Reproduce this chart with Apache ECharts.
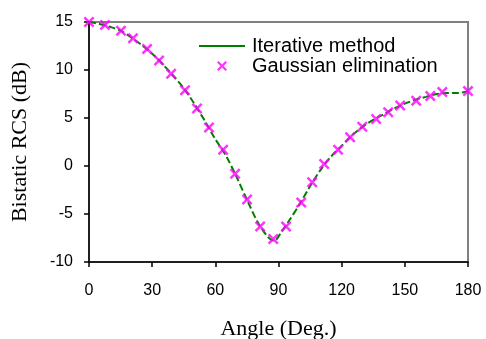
<!DOCTYPE html>
<html>
<head>
<meta charset="utf-8">
<script src="https://cdn.jsdelivr.net/npm/echarts@6/dist/echarts.min.js"></script>
<style>
  html, body { margin: 0; padding: 0; background: #fff; }
  #chart { width: 486px; height: 339px; }
</style>
</head>
<body>
<div id="chart"></div>
<script>
// Iterative method (line)
const lineAngles = [0, 5, 10, 15, 20, 25, 30, 35, 40, 45, 50, 55, 60, 65, 70, 75, 80, 85, 88, 91, 95, 100, 105, 110, 115, 120, 125, 130, 135, 140, 145, 150, 155, 160, 165, 170, 175, 180]
const lineValues = [15.0, 14.8, 14.5, 14.1, 13.4, 12.6, 11.7, 10.6, 9.4, 8.1, 6.5, 4.7, 2.8, 1.1, -1.1, -3.5, -5.8, -7.4, -7.8, -7.0, -5.7, -4.0, -2.1, -0.4, 1.0, 2.1, 3.2, 4.1, 4.8, 5.4, 6.0, 6.5, 6.9, 7.2, 7.5, 7.6, 7.6, 7.8]

// Gaussian elimination (markers)
const gaussAngles = [0, 7.6, 15.2, 20.9, 27.6, 33.3, 39.0, 45.6, 51.3, 57.0, 63.7, 69.4, 75.1, 81.3, 87.5, 93.6, 100.8, 106.0, 111.7, 118.3, 124.0, 129.8, 136.4, 142.1, 147.8, 155.4, 162.1, 167.8, 180]
const gaussValues = [15.0, 14.7, 14.1, 13.3, 12.2, 11.0, 9.6, 7.9, 6.0, 4.0, 1.7, -0.8, -3.5, -6.3, -7.6, -6.3, -3.8, -1.7, 0.2, 1.7, 3.0, 4.1, 4.9, 5.6, 6.3, 6.8, 7.3, 7.7, 7.8]

const xTicks = [0, 30, 60, 90, 120, 150, 180]
const yTicks = [-10, -5, 0, 5, 10, 15]

const sans = 'Liberation Sans, Arial, sans-serif'
const serif = 'Liberation Serif, Times New Roman, serif'
// filled "x" glyph
const crossPath = 'path://M0,1.6 L1.6,0 L5,3.4 L8.4,0 L10,1.6 L6.6,5 L10,8.4 L8.4,10 L5,6.6 L1.6,10 L0,8.4 L3.4,5 Z'

const chart = echarts.init(document.getElementById('chart'), null, { renderer: 'canvas' })

const option = {
  animation: false,
  backgroundColor: '#fff',
  grid: {
    left: 89, right: 18, top: 22, bottom: 77,
    outerBoundsMode: 'none',
    containLabel: false,
    show: true,
    borderColor: '#808080',
    borderWidth: 2,
  },
  legend: {
    orient: 'vertical',
    left: 193,
    top: 31,
    itemWidth: 46,
    itemHeight: 10,
    itemGap: 0,
    textStyle: { fontFamily: sans, fontSize: 20, lineHeight: 20, color: '#000', padding: [0, 0, 0, 2] },
    data: [
      { name: 'Iterative method', lineStyle: { type: 'solid' }, itemStyle: { opacity: 0 } },
      { name: 'Gaussian elimination' },
    ],
  },
  xAxis: {
    type: 'value',
    min: xTicks[0],
    max: xTicks[xTicks.length - 1],
    interval: 30,
    name: 'Angle (Deg.)',
    nameLocation: 'middle',
    nameGap: 56,
    nameTextStyle: { fontFamily: serif, fontSize: 22, color: '#000' },
    axisLine: { onZero: false, lineStyle: { color: '#000', width: 1.5 } },
    axisTick: { inside: false, length: 5, lineStyle: { color: '#000', width: 1.5 } },
    axisLabel: { fontFamily: sans, fontSize: 16, color: '#000', margin: 21 },
    splitLine: { show: false },
  },
  yAxis: {
    type: 'value',
    min: yTicks[0],
    max: yTicks[yTicks.length - 1],
    interval: 5,
    name: 'Bistatic RCS (dB)',
    nameLocation: 'middle',
    nameGap: 58,
    nameTextStyle: { fontFamily: serif, fontSize: 22, color: '#000' },
    axisLine: { onZero: false, lineStyle: { color: '#000', width: 1.5 } },
    axisTick: { inside: false, length: 5, lineStyle: { color: '#000', width: 1.5 } },
    axisLabel: { fontFamily: sans, fontSize: 16, color: '#000', margin: 16 },
    splitLine: { show: false },
  },
  series: [
    {
      name: 'Iterative method',
      type: 'line',
      data: lineAngles.map((a, i) => [a, lineValues[i]]),
      showSymbol: false,
      symbol: 'none',
      smooth: 0.3,
      color: '#008000',
      lineStyle: { color: '#008000', width: 2, type: [7, 3] },
      z: 2,
    },
    {
      name: 'Gaussian elimination',
      type: 'scatter',
      data: gaussAngles.map((a, i) => [a, gaussValues[i]]),
      symbol: crossPath,
      symbolSize: 11,
      symbolKeepAspect: true,
      color: '#FF00FF',
      itemStyle: { color: '#FF00FF' },
      clip: false,
      z: 3,
    },
  ],
}

chart.setOption(option)
</script>
</body>
</html>
